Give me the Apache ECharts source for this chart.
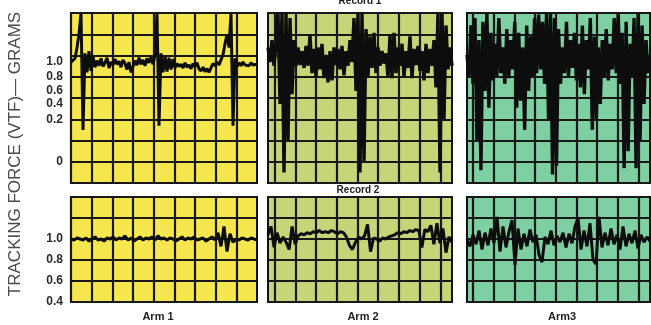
<!DOCTYPE html>
<html>
<head>
<meta charset="utf-8">
<script src="https://cdn.jsdelivr.net/npm/echarts@6/dist/echarts.min.js"></script>
<style>
  html, body { margin: 0; padding: 0; background: #fff; }
  #chart { width: 651px; height: 325px; }
</style>
</head>
<body>
<div id="chart"></div>
<script>
// tracking force (grams) from left to right
const arm1Record1 = [
  1.00, 0.98, 1.05, 1.20, 1.38, 1.67, 0.15, 1.12, 0.86, 1.15, 0.88, 1.08, 0.93, 1.02, 0.95, 1.05,
  0.94, 0.99, 1.06, 0.92, 1.00, 0.96, 1.04, 0.97, 1.01, 0.93, 1.03, 0.98, 0.90, 1.00, 0.86, 0.88,
  1.02, 0.96, 1.06, 0.97, 1.03, 0.95, 1.05, 0.99, 1.07, 0.97, 1.10, 1.67, 0.17, 1.12, 0.86, 1.08,
  0.87, 1.06, 0.90, 1.04, 0.92, 0.98, 0.94, 0.97, 0.92, 0.99, 0.93, 0.96, 0.91, 0.98, 0.94, 0.99,
  0.91, 0.88, 0.93, 0.87, 0.91, 0.86, 0.92, 0.98, 0.95, 1.00, 0.96, 1.03, 1.10, 1.25, 1.38, 1.20,
  1.67, 0.17, 1.05, 0.94, 0.99, 0.95, 1.00, 0.96, 0.98, 0.95, 0.99, 0.96, 0.98, 0.97
]
const arm2Record1 = [
  1.20, 1.00, 1.30, 0.95, 1.25, 1.67, 0.40, 1.67, -0.05, 1.67, 0.10, 1.60, 0.55, 1.30, 0.95, 1.20,
  0.96, 1.15, 0.92, 1.22, 0.95, 1.37, 0.85, 1.18, 0.80, 1.20, 0.90, 1.25, 0.78, 1.10, 0.72, 1.15,
  0.75, 1.20, 0.96, 1.18, 0.90, 1.22, 0.82, 1.15, 0.95, 1.30, 1.00, 1.60, 0.60, 1.67, -0.05, 1.67,
  0.00, 1.45, 0.80, 1.35, 0.92, 1.40, 0.85, 1.20, 0.95, 1.15, 0.98, 1.12, 0.80, 1.37, 0.78, 1.40,
  0.85, 1.20, 0.95, 1.25, 0.80, 1.15, 0.92, 1.35, 0.78, 1.18, 0.96, 1.22, 0.88, 1.15, 0.75, 1.25,
  0.85, 1.18, 0.95, 1.30, 0.65, 1.67, -0.05, 1.67, 0.20, 1.50, 0.90, 1.20, 0.95
]
const arm3Record1 = [
  1.10, 0.80, 1.50, 0.70, 1.60, 0.10, 1.30, -0.04, 1.55, 0.60, 1.67, 0.35, 1.40, 0.75, 1.25, 0.80,
  1.60, 0.85, 1.20, 0.70, 1.45, 0.78, 1.30, 0.90, 1.55, 0.35, 1.40, 0.45, 1.20, 0.15, 1.50, 0.60,
  1.35, 0.80, 1.60, 0.85, 1.65, 0.90, 1.55, 0.70, 1.67, 0.20, 1.67, -0.06, 1.60, -0.02, 1.45, 0.70,
  1.20, 0.85, 1.55, 0.80, 1.30, 0.92, 1.40, 0.75, 1.25, 0.65, 1.50, 0.55, 1.30, 0.90, 1.60, 0.15,
  1.35, 0.20, 1.20, 0.40, 1.30, 0.80, 1.45, 0.75, 1.25, 0.90, 1.60, 0.85, 1.67, 0.70, 1.40, -0.03,
  1.55, 0.05, 1.25, 0.80, 1.60, -0.03, 1.67, 0.10, 1.50, 0.40, 1.30, 0.85, 1.10
]
const arm1Record2 = [
  1.00, 0.99, 1.01, 1.00, 0.99, 1.01, 0.98, 1.00, 1.02, 0.99, 1.00, 0.98, 1.01, 1.00, 1.02, 0.99,
  1.01, 1.00, 1.03, 0.99, 1.01, 0.98, 1.00, 1.02, 0.99, 1.01, 1.00, 1.02, 0.99, 1.03, 1.00, 1.01,
  0.99, 1.01, 1.00, 0.98, 1.00, 1.02, 0.99, 1.01, 1.00, 1.02, 0.99, 1.00, 1.01, 0.98, 1.00, 1.02,
  0.99, 1.06, 0.93, 1.12, 0.88, 1.05, 0.97, 1.00, 0.99, 1.01, 1.00, 0.99, 1.01, 1.00, 0.99
]
const arm2Record2 = [
  1.04, 1.12, 0.92, 1.06, 0.96, 1.02, 0.97, 0.90, 1.12, 0.95, 1.03, 1.05, 1.04, 1.06, 1.05, 1.07,
  1.06, 1.08, 1.06, 1.07, 1.06, 1.08, 1.07, 1.05, 1.07, 1.06, 1.02, 0.94, 0.90, 0.97, 1.02, 1.00,
  1.03, 1.14, 0.88, 1.01, 1.00, 0.98, 1.01, 1.00, 1.02, 1.03, 1.04, 1.06, 1.05, 1.07, 1.06, 1.08,
  1.07, 1.09, 1.08, 0.92, 1.09, 1.07, 1.13, 0.95, 1.15, 0.96, 1.10, 0.87, 1.02, 0.97
]
const arm3Record2 = [
  1.00, 0.93, 1.04, 0.95, 1.08, 0.90, 1.06, 0.94, 1.10, 0.96, 1.21, 0.88, 1.12, 0.92, 1.07, 1.18,
  0.75, 1.10, 0.90, 1.05, 0.93, 1.09, 0.97, 1.04, 0.85, 0.78, 1.02, 0.95, 1.08, 0.94, 1.03, 0.97,
  1.06, 0.92, 1.05, 0.96, 1.12, 1.20, 0.90, 1.08, 0.93, 1.15, 0.80, 0.76, 1.21, 0.92, 1.06, 0.94,
  1.10, 0.95, 1.04, 0.90, 1.12, 0.93, 1.05, 0.96, 1.08, 0.91, 1.04, 0.97, 1.02, 0.98
]

const armNames = ['Arm 1', 'Arm 2', 'Arm3']
const recordNames = ['Record 1', 'Record 2']
const topTickLabels = ['0', '0.2', '0.4', '0.6', '0.8', '1.0']
const bottomTickValues = [0.4, 0.6, 0.8, 1.0]

// the printed Record 1 scale is squeezed above 0.2 g: grams -> grid rows (8 rows tall)
const topGrams = [0, 0.2, 0.4, 0.6, 0.8, 1.0]
const topRows = [1, 3, 3.72, 4.33, 5, 5.69]
const toRow = g => {
  const n = topGrams.length - 1
  if (g <= topGrams[0]) {
    return topRows[0] + (g - topGrams[0]) * (topRows[1] - topRows[0]) / (topGrams[1] - topGrams[0])
  }
  for (let k = 1; k <= n; k++) {
    if (g <= topGrams[k]) {
      const t = (g - topGrams[k - 1]) / (topGrams[k] - topGrams[k - 1])
      return topRows[k - 1] + t * (topRows[k] - topRows[k - 1])
    }
  }
  return topRows[n] + (g - topGrams[n]) * (topRows[n] - topRows[n - 1]) / (topGrams[n] - topGrams[n - 1])
}

const cell = 20.7
const cols = [
  { left: 71, width: 186, offset: 0, bg: '#f6e74e' },
  { left: 268, width: 184, offset: 6.7, bg: '#c6d577' },
  { left: 467, width: 183, offset: 6, bg: '#7ecfa2' },
]
const rowsLayout = [
  { top: 13, height: 170 },
  { top: 197, height: 105 },
]
const traces = [
  [arm1Record1, arm2Record1, arm3Record1],
  [arm1Record2, arm2Record2, arm3Record2],
]

const grid = []
const xAxis = []
const yAxis = []
const series = []

rowsLayout.forEach((r, ri) => {
  cols.forEach((c, ci) => {
    const idx = grid.length
    grid.push({
      left: c.left, top: r.top, width: c.width, height: r.height,
      show: true, backgroundColor: c.bg, borderColor: '#111', borderWidth: 2,
    })
    const xMax = c.width / cell
    const vLines = []
    for (let v = c.offset / cell; v < xMax - 0.05; v += 1) vLines.push(v)
    xAxis.push({
      type: 'value', gridIndex: idx, min: 0, max: xMax,
      axisLine: { show: false },
      axisTick: { show: false, customValues: vLines },
      axisLabel: { show: false },
      splitLine: { show: true, lineStyle: { color: '#181818', width: 2.2 } },
    })
    const labelStyle = {
      show: ci === 0, margin: 8, color: '#2a2a2a', fontSize: 12, fontWeight: 'bold',
      fontFamily: 'Liberation Sans',
    }
    if (ri === 0) {
      yAxis.push({
        type: 'value', gridIndex: idx, min: 0, max: 8, interval: 1,
        axisLine: { show: false }, axisTick: { show: false },
        axisLabel: Object.assign({}, labelStyle, {
          customValues: topRows,
          formatter: v => topTickLabels[topRows.findIndex(rv => Math.abs(rv - v) < 1e-6)],
        }),
        splitLine: { show: true, lineStyle: { color: '#181818', width: 2.2 } },
      })
    } else {
      yAxis.push({
        type: 'value', gridIndex: idx, min: 0.4, max: 1.4, interval: 0.2,
        axisLine: { show: false }, axisTick: { show: false },
        axisLabel: Object.assign({}, labelStyle, {
          customValues: bottomTickValues,
          formatter: v => v.toFixed(1),
        }),
        splitLine: { show: true, lineStyle: { color: '#181818', width: 2.2 } },
      })
    }
    const values = traces[ri][ci]
    const step = xMax / (values.length - 1)
    series.push({
      type: 'line', xAxisIndex: idx, yAxisIndex: idx,
      symbol: 'none', smooth: false,
      lineStyle: { color: '#0d0d0d', width: ri === 0 && ci > 0 ? 3.4 : 3 },
      data: values.map((g, i) => [i * step, ri === 0 ? toRow(g) : g]),
    })
  })
})

const textEl = (text, x, y, size, extra) => Object.assign({
  type: 'text', x, y,
  style: {
    text, fill: '#222', font: `bold ${size}px "Liberation Sans", sans-serif`,
    textAlign: 'center', textVerticalAlign: 'middle', align: 'center', verticalAlign: 'middle',
  },
}, extra || {})

const chart = echarts.init(document.getElementById('chart'))
chart.setOption({
  animation: false,
  grid, xAxis, yAxis, series,
  graphic: [
    textEl(recordNames[0], 360, 1, 10),
    textEl(recordNames[1], 358, 190, 10),
    textEl(armNames[0], 158, 317, 11),
    textEl(armNames[1], 363, 317, 11),
    textEl(armNames[2], 562, 317, 11),
    {
      type: 'text', x: 15, y: 154, rotation: Math.PI / 2,
      style: {
        text: 'TRACKING FORCE (VTF)— GRAMS', fill: '#4a4a4a',
        font: '17px "Liberation Sans", sans-serif',
        textAlign: 'center', textVerticalAlign: 'middle', align: 'center', verticalAlign: 'middle',
      },
    },
  ],
})
</script>
</body>
</html>
